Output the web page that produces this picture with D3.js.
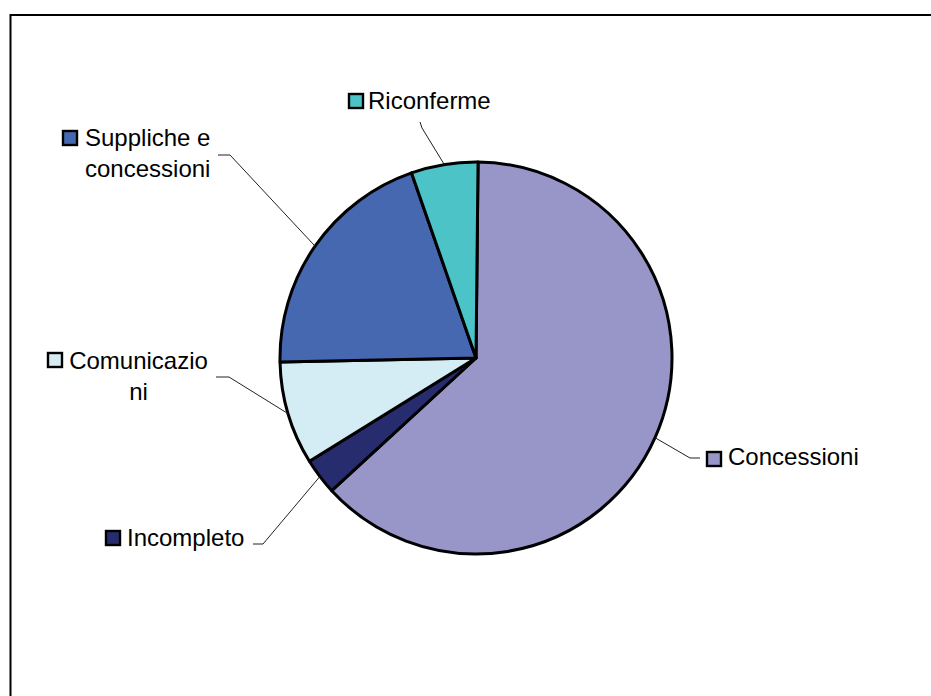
<!DOCTYPE html>
<html>
<head>
<meta charset="utf-8">
<script src="https://cdn.jsdelivr.net/npm/d3@7/dist/d3.min.js"></script>
<style>
  html, body { margin: 0; padding: 0; background: #fff; }
  svg { display: block; }
  text { font-family: "Liberation Sans", Arial, sans-serif; font-size: 24px; fill: #000; }
</style>
</head>
<body>
<svg id="chart" width="931" height="696"></svg>
<script>
// Share of each category (percent), clockwise from 12 o'clock
const categories = ["Concessioni", "Incompleto", "Comunicazioni", "Suppliche e concessioni", "Riconferme"];
const values = [63, 3, 8.5, 20, 5.5];
// Label text lines as they are wrapped
const labelLines = [["Concessioni"], ["Incompleto"], ["Comunicazio", "ni"], ["Suppliche e", "concessioni"], ["Riconferme"]];
const colors = ["#9895C9", "#272C6F", "#D4ECF3", "#4668B1", "#4BC3C7"];

// Label placement: marker centre, text anchor, leader elbow
const labelLayout = [
  { sx: 714, sy: 459, tx: 728, ty: 465, anchor: "start", lead: [[700, 458], [690, 458]] },
  { sx: 113, sy: 538, tx: 127, ty: 546, anchor: "start", lead: [[253, 544], [263, 544]] },
  { sx: 55, sy: 360, tx: 138.5, ty: 369, anchor: "middle", lead: [[216, 377], [229, 377]] },
  { sx: 70, sy: 138, tx: 85, ty: 146, anchor: "start", lead: [[218, 155], [230, 155]] },
  { sx: 356, sy: 101, tx: 368, ty: 109, anchor: "start", lead: [[420, 122], [422, 128]] }
];
const lineGap = 31;

const svg = d3.select("#chart");
const cx = 476, cy = 358, r = 196;

// Outer frame
svg.append("rect")
  .attr("x", 10.5).attr("y", 15).attr("width", 940).attr("height", 700)
  .attr("fill", "none").attr("stroke", "#000").attr("stroke-width", 2);

const offset = 0.6 * Math.PI / 180;
const pie = d3.pie().sort(null).value(d => d)
  .startAngle(offset).endAngle(2 * Math.PI + offset);
const arcs = pie(values);
const arc = d3.arc().innerRadius(0).outerRadius(r);

const g = svg.append("g").attr("transform", `translate(${cx},${cy})`);

g.selectAll("path.slice").data(arcs).enter().append("path")
  .attr("class", "slice")
  .attr("d", arc)
  .attr("fill", (d, i) => colors[i])
  .attr("stroke", "#000").attr("stroke-width", 3).attr("stroke-linejoin", "round");

// Leader lines from slice edge midpoint to labels
const line = d3.line();
arcs.forEach((d, i) => {
  const a = (d.startAngle + d.endAngle) / 2;
  const ex = cx + r * Math.sin(a), ey = cy - r * Math.cos(a);
  const L = labelLayout[i];
  svg.append("path")
    .attr("d", line([L.lead[0], L.lead[1], [ex, ey]]))
    .attr("fill", "none").attr("stroke", "#222").attr("stroke-width", 1);
});

// Labels with legend-style colour markers
labelLayout.forEach((L, i) => {
  svg.append("rect")
    .attr("x", L.sx - 7).attr("y", L.sy - 7).attr("width", 14).attr("height", 14)
    .attr("fill", colors[i]).attr("stroke", "#000").attr("stroke-width", 2.4);
  labelLines[i].forEach((t, j) => {
    svg.append("text")
      .attr("x", L.tx).attr("y", L.ty + j * lineGap)
      .attr("text-anchor", L.anchor)
      .text(t);
  });
});
</script>
</body>
</html>
